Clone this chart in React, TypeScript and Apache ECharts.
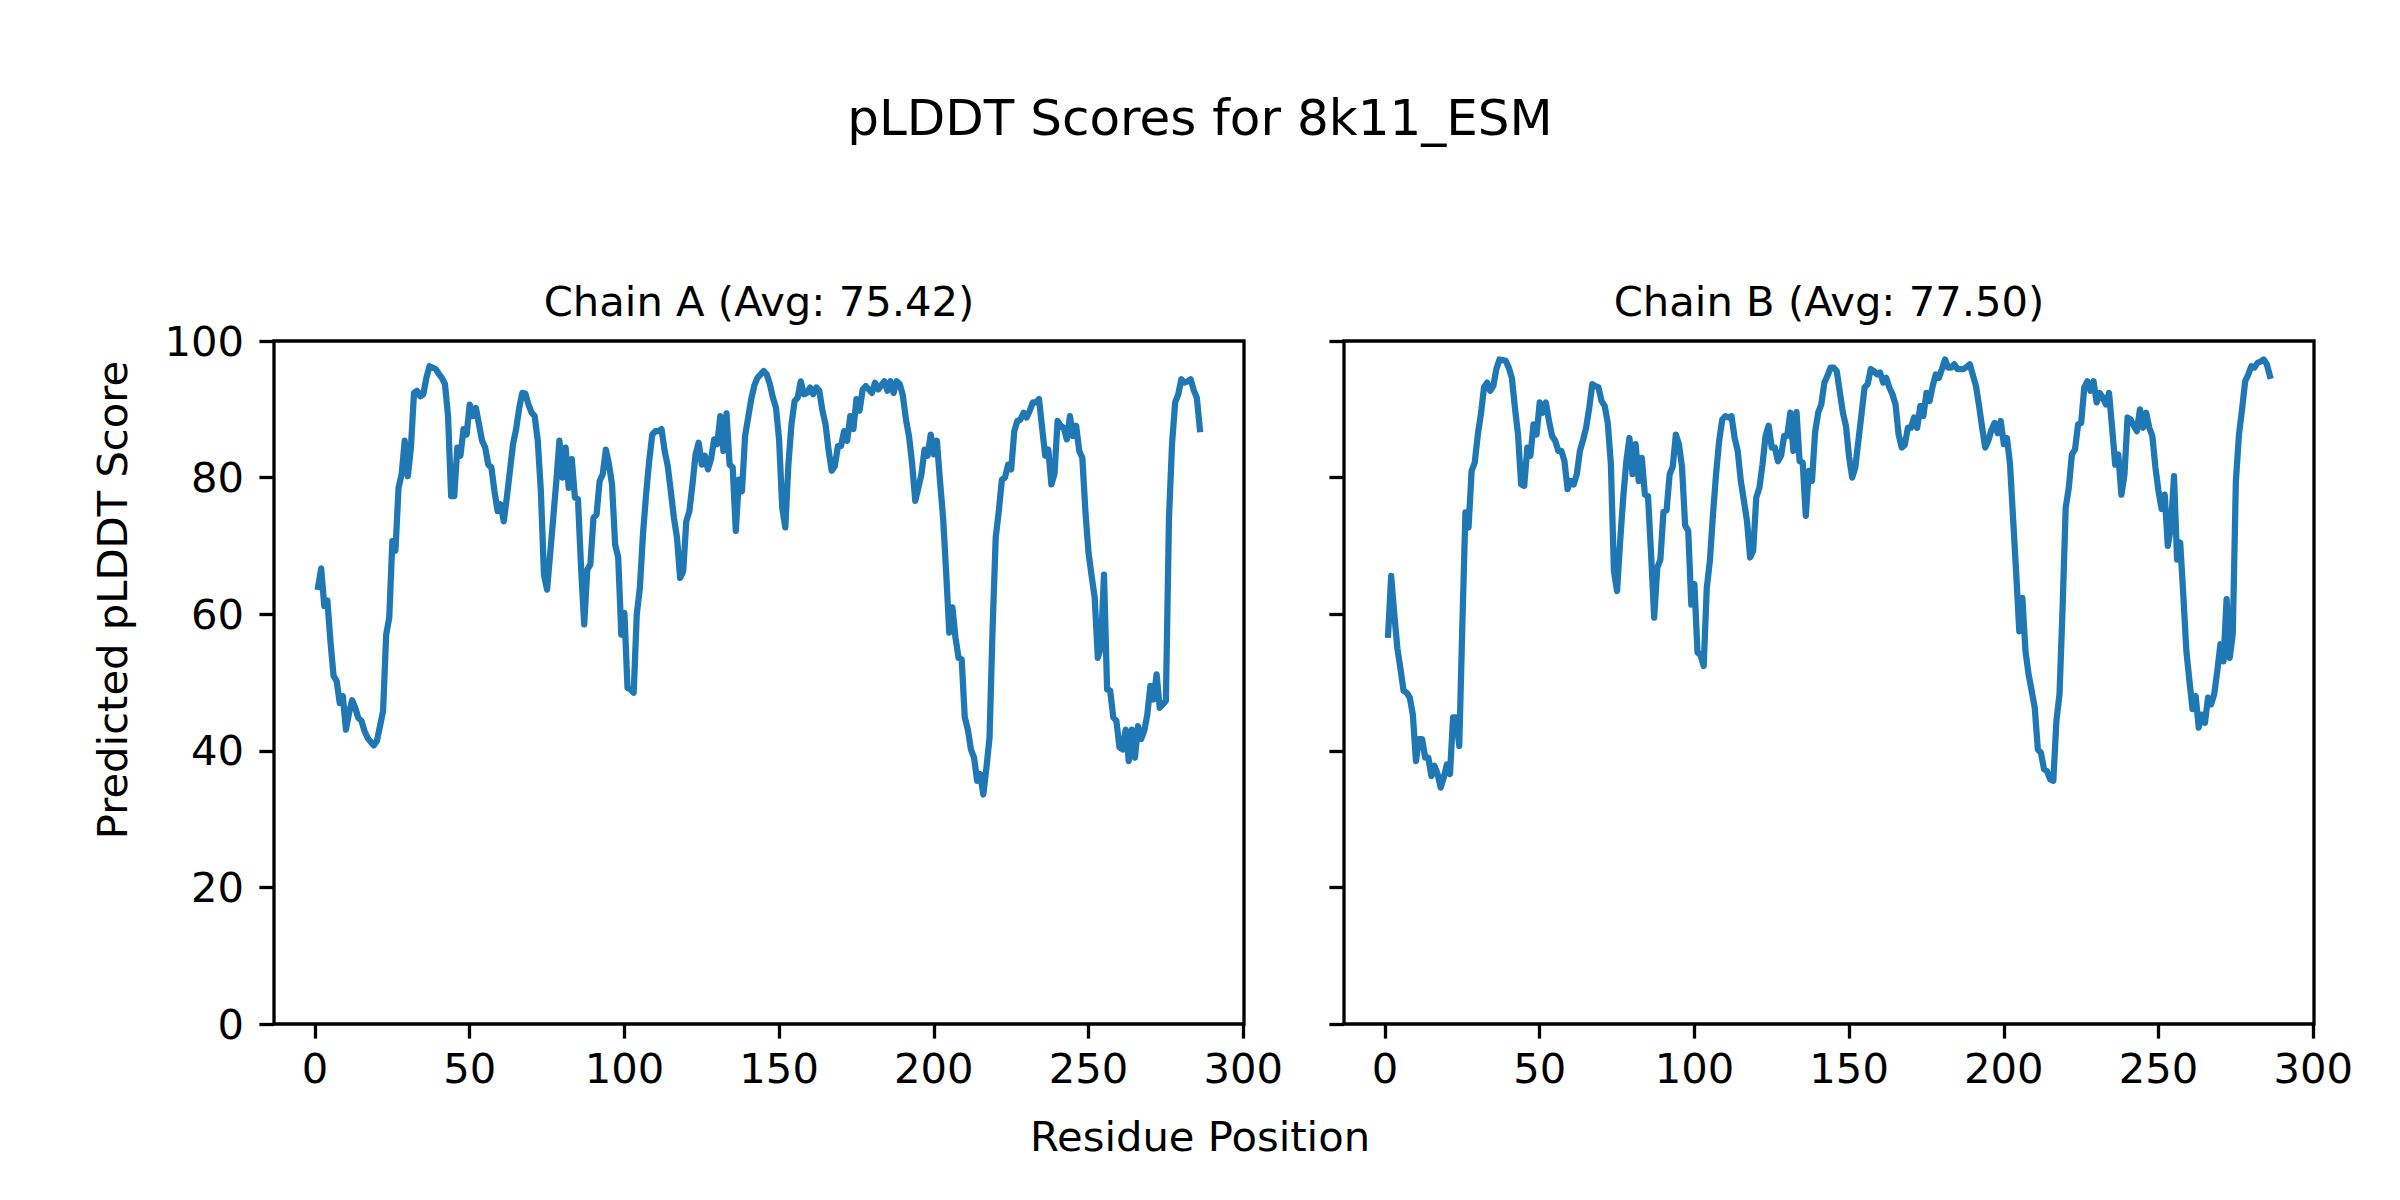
import React, { useEffect, useRef } from "react";
import * as echarts from "echarts";

const chainA = [
  64, 66.7, 61.2, 62, 56, 51, 50.2, 47, 48, 43.1,
  45.5, 47.4, 46.3, 44.8, 44.4, 42.9, 41.9, 41.3, 40.8, 41.4,
  43.6, 45.8, 57, 59.5, 70.7, 69.3, 78.5, 80.5, 85.4, 80.2,
  84.4, 92.4, 92.7, 91.9, 92.2, 94.6, 96.3, 96.1, 95.9, 95.2,
  94.6, 93.7, 89, 77.3, 77.3, 84.4, 83.2, 87.1, 86.3, 90.7,
  89, 90.2, 87.8, 85.4, 84.4, 81.9, 81.5, 78, 75.1, 76.1,
  73.6, 77.1, 81, 84.9, 87.1, 90.2, 92.4, 92.3, 90.7, 89.5,
  89, 85.4, 78, 65.8, 63.6, 68.8, 74.1, 79.5, 85.4, 80,
  84.4, 78.5, 82.7, 77.1, 76.8, 66.8, 58.5, 66.5, 67.3, 74.1,
  74.6, 79.5, 80.5, 84.1, 82, 79, 70.2, 68.3, 57, 60.2,
  49.2, 49, 48.5, 60, 63.9, 71.7, 77.5, 82.4, 86.3, 86.8,
  86.8, 87.1, 83.9, 81.7, 78, 74.1, 71.2, 65.3, 66.3, 73.6,
  75.1, 79, 83.4, 85.1, 81.9, 83.2, 81.2, 82.7, 85.6, 84.9,
  89, 83.9, 89.4, 81.9, 81.5, 72.2, 79.7, 78, 86.1, 88.8,
  91.5, 93.5, 94.6, 95.1, 95.6, 95.1, 93.7, 91.7, 90.2, 85.5,
  75.6, 72.7, 81.9, 87.8, 91.2, 91.7, 94.1, 92.2, 92.4, 93.2,
  92.2, 93.2, 92.7, 89.8, 87.8, 84, 81, 81.7, 84.6, 84.6,
  86.8, 85.4, 89, 87.1, 91.5, 89.8, 92.9, 93.4, 92.9, 92.4,
  93.9, 92.9, 93.5, 94.1, 92.7, 94.1, 92.4, 94.1, 93.7, 92,
  88.5, 86, 82, 76.6, 78.5, 80.5, 84.1, 83.2, 86.3, 83.4,
  85.4, 79.5, 74.1, 66, 57.3, 61, 56.6, 53.6, 53.4, 44.9,
  43.1, 40.2, 39, 35.6, 36.6, 33.6, 37.5, 41.9, 58, 71.2,
  75.1, 79.7, 80, 81.9, 81.2, 86.8, 88.3, 88.5, 89.5, 88.8,
  89.8, 91, 91, 91.5, 87.3, 83.2, 84.1, 79, 80.5, 88.3,
  87.6, 87.3, 85.6, 89, 86.1, 87.6, 83.9, 82.9, 75, 69,
  65.6, 62.4, 53.6, 55.1, 65.8, 49, 48.8, 44.9, 44.4, 40.5,
  40.2, 43.1, 38.5, 43.1, 39, 43.6, 41.7, 42.9, 45.3, 49.5,
  47.5, 51.2, 46.3, 46.8, 47.3, 74, 85, 91, 92.2, 94.4,
  93.9, 94.1, 94.4, 92.8, 91.7, 87.1,
];

const chainB = [
  57, 65.6, 60, 55, 52, 48.8, 48.5, 47.8, 45.3, 38.5,
  41.7, 41.7, 39, 39, 36.3, 37.8, 36.6, 34.6, 36.1, 38,
  36.6, 44.9, 44.9, 40.7, 58.5, 74.9, 72.7, 81, 82.2, 86.3,
  89.3, 93.2, 93.9, 92.7, 93.4, 95.9, 97.3, 97.2, 97.1, 96.1,
  94.6, 90.2, 86.3, 79, 78.8, 84.4, 83.2, 87.8, 86.3, 91,
  89.5, 91, 88.3, 86.1, 85.4, 83.9, 83.9, 82.4, 78.3, 79.5,
  79, 80.5, 83.9, 85.5, 87.3, 90.2, 93.7, 93.4, 93.2, 91.2,
  90.5, 88, 82, 66.3, 63.4, 70.7, 77.1, 82.4, 85.8, 80.5,
  84.9, 79.5, 82.9, 77.5, 77.3, 68.8, 59.5, 66.8, 68, 75,
  75.2, 80.5, 81.6, 86.3, 84.9, 81.5, 73, 72.2, 61.4, 64.4,
  54.4, 54, 52.4, 63.9, 67.8, 74.6, 80.5, 85.4, 88.5, 89,
  88.8, 89, 85.8, 83.9, 79.5, 76.6, 73.6, 68.3, 69.3, 77.1,
  78.5, 81.9, 86.1, 87.6, 84.4, 84.4, 82.4, 83.2, 86.1, 86.1,
  89.5, 83.9, 89.6, 82.4, 82.2, 74.4, 81, 79.5, 86.6, 89.5,
  90.7, 93.9, 94.9, 96.1, 96.1, 95.6, 92.5, 89.5, 87.5, 83,
  80, 81.5, 85.4, 89.3, 93.2, 93.7, 95.9, 95.6, 95.1, 95.4,
  93.9, 94.6, 93.2, 92.2, 90.7, 86.3, 84.4, 84.8, 87.3, 87.3,
  88.8, 87.3, 90.5, 89, 92.4, 91.2, 93.4, 95.1, 94.6, 95.9,
  97.3, 96.1, 96.1, 96.6, 95.9, 95.9, 95.9, 96.2, 96.6, 95,
  93.4, 90.5, 87.3, 84.4, 85.4, 87, 88, 86.5, 88.3, 84.9,
  85.8, 82, 74, 66, 57.5, 62.4, 54.6, 51.2, 48.8, 46.3,
  40.2, 39.7, 37.3, 37, 35.8, 35.6, 44.4, 48.3, 61, 75.6,
  78.5, 83.4, 84.1, 87.8, 88, 93.2, 94.1, 92.7, 94.1, 91,
  92.4, 91.7, 90.7, 92.4, 87.3, 81.9, 83.4, 77.5, 80.5, 88.8,
  88.5, 87.6, 86.8, 90, 87.3, 89.5, 87.3, 86.1, 81.5, 78,
  75.4, 77.5, 70, 72.7, 80.2, 68, 70.5, 62.9, 54.6, 50.2,
  46.1, 48, 43.4, 45.3, 44.1, 47.8, 46.8, 48.3, 51.7, 55.6,
  53.1, 62.2, 53.6, 57.1, 79.5, 86.3, 90, 94.1, 95.1, 96.3,
  96.1, 96.8, 97, 97.3, 96.6, 94.9,
];

const xTicks = [0, 50, 100, 150, 200, 250, 300];
const yTicks = [0, 20, 40, 60, 80, 100];
const suptitle = "pLDDT Scores for 8k11_ESM";
const panelTitles = ["Chain A (Avg: 75.42)", "Chain B (Avg: 77.50)"];
const xLabel = "Residue Position";
const yLabel = "Predicted pLDDT Score";

const FONT = "DejaVu Sans";
const TICK_FS = 41.7;

export default function App() {
  const ref = useRef<HTMLDivElement>(null);

  useEffect(() => {
    document.body.style.margin = "0";
    const chart = echarts.init(ref.current!, null, { renderer: "svg" });

    const grids = [
      { left: 274, top: 341, width: 970, height: 683 },
      { left: 1344, top: 341, width: 970, height: 683 },
    ];
    const chains = [chainA, chainB];

    const textStyle = (text: string, size: number) => ({
      text,
      fill: "#000",
      fontSize: size,
      fontFamily: FONT,
      align: "center",
      verticalAlign: "middle",
      textAlign: "center",
      textVerticalAlign: "middle",
    });

    const option: any = {
      animation: false,
      backgroundColor: "#fff",
      grid: grids.map((g) => ({
        ...g,
        show: true,
        borderColor: "#000",
        borderWidth: 3.3,
        backgroundColor: "transparent",
        containLabel: false,
        outerBoundsMode: "none",
      })),
      xAxis: grids.map((_, i) => ({
        type: "value",
        gridIndex: i,
        position: "bottom",
        min: -13.25,
        max: 300.25,
        axisLine: { show: false, onZero: false },
        splitLine: { show: false },
        axisTick: {
          show: true,
          length: 14.6,
          customValues: xTicks,
          lineStyle: { color: "#000", width: 3.3 },
        },
        axisLabel: {
          show: true,
          customValues: xTicks,
          margin: 23,
          color: "#000",
          fontSize: TICK_FS,
          fontFamily: FONT,
          formatter: (v: number) => String(v),
        },
      })),
      yAxis: grids.map((_, i) => ({
        type: "value",
        gridIndex: i,
        position: "left",
        min: yTicks[0],
        max: yTicks[yTicks.length - 1],
        interval: 20,
        axisLine: { show: false, onZero: false },
        splitLine: { show: false },
        axisTick: {
          show: true,
          length: 14.6,
          lineStyle: { color: "#000", width: 3.3 },
        },
        axisLabel: {
          show: i === 0,
          margin: 30,
          color: "#000",
          fontSize: TICK_FS,
          fontFamily: FONT,
        },
      })),
      series: chains.map((c, i) => ({
        type: "line",
        xAxisIndex: i,
        yAxisIndex: i,
        data: c.map((v, k) => [k + 1, v]),
        showSymbol: false,
        symbol: "none",
        silent: true,
        lineStyle: { color: "#1f77b4", width: 6.25, cap: "square", join: "round" },
      })),
      graphic: [
        { type: "text", x: 1200, y: 118, style: textStyle(suptitle, 50) },
        { type: "text", x: 759, y: 301, style: textStyle(panelTitles[0], 41.7) },
        { type: "text", x: 1829, y: 301, style: textStyle(panelTitles[1], 41.7) },
        { type: "text", x: 1200, y: 1136, style: textStyle(xLabel, 41.7) },
        { type: "text", x: 112, y: 600, rotation: Math.PI / 2, style: textStyle(yLabel, 41.7) },
      ],
    };

    chart.setOption(option);
    return () => chart.dispose();
  }, []);

  return <div ref={ref} style={{ width: 2400, height: 1200 }} />;
}
